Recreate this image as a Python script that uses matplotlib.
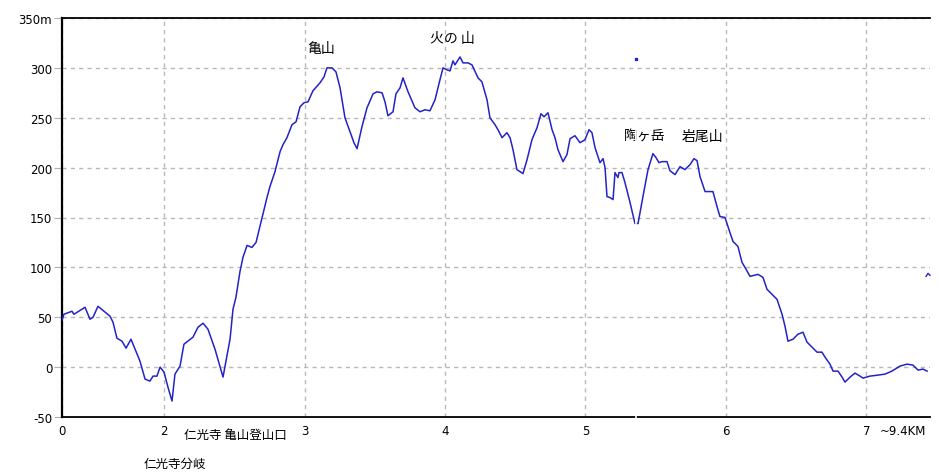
import matplotlib
matplotlib.use("Agg")
import matplotlib.pyplot as plt

# distance (km) and elevation (m) of the profile
dist_km = [1.274, 1.288, 1.345, 1.359, 1.438, 1.473, 1.495, 1.530, 1.616, 1.637,
           1.665, 1.701, 1.730, 1.765, 1.794, 1.829, 1.865, 1.900, 1.922, 1.950,
           1.972, 2.000, 2.028, 2.057, 2.078, 2.114, 2.142, 2.206, 2.242, 2.278,
           2.313, 2.363, 2.420, 2.470, 2.491, 2.512, 2.541, 2.562, 2.591, 2.626,
           2.655, 2.698, 2.733, 2.754, 2.790, 2.826, 2.847, 2.875, 2.911, 2.940,
           2.968, 2.996, 3.025, 3.060, 3.110, 3.139, 3.160, 3.196, 3.224, 3.253,
           3.288, 3.324, 3.352, 3.374, 3.409, 3.445, 3.488, 3.516, 3.552, 3.573,
           3.594, 3.630, 3.651, 3.680, 3.701, 3.737, 3.786, 3.822, 3.858, 3.893,
           3.929, 3.964, 3.986, 4.014, 4.036, 4.057, 4.071, 4.107, 4.128, 4.164,
           4.192, 4.235, 4.263, 4.299, 4.320, 4.356, 4.377, 4.406, 4.441, 4.463,
           4.484, 4.512, 4.555, 4.584, 4.619, 4.655, 4.683, 4.705, 4.733, 4.762,
           4.783, 4.804, 4.840, 4.868, 4.890, 4.925, 4.961, 4.996, 5.025, 5.046,
           5.068, 5.103, 5.125, 5.139, 5.153, 5.174, 5.196, 5.210, 5.231, 5.238,
           5.260, 5.281, 5.317, 5.352, 5.374, 5.409, 5.445, 5.480, 5.502, 5.523,
           5.544, 5.580, 5.601, 5.637, 5.673, 5.708, 5.744, 5.772, 5.794, 5.815,
           5.851, 5.907, 5.936, 5.957, 5.993, 6.028, 6.050, 6.085, 6.114, 6.135,
           6.171, 6.228, 6.263, 6.292, 6.327, 6.363, 6.399, 6.420, 6.441, 6.477,
           6.512, 6.548, 6.577, 6.612, 6.648, 6.683, 6.705, 6.740, 6.762, 6.797,
           6.826, 6.847, 6.883, 6.918, 6.954, 6.975, 7.025, 7.082, 7.132, 7.181,
           7.238, 7.288, 7.331, 7.367, 7.402, 7.431]
elev_m = [47, 53, 56, 53, 60, 48, 50, 61, 51, 45,
          29, 26, 19, 28, 18, 6, -12, -14, -9, -9,
          0, -5, -20, -34, -7, 1, 23, 30, 40, 44,
          38, 18, -10, 28, 58, 70, 96, 110, 122, 120,
          125, 150, 170, 181, 196, 216, 223, 230, 243, 246,
          261, 265, 266, 277, 285, 291, 300, 300, 296, 280,
          250, 236, 225, 219, 241, 260, 274, 276, 275, 266,
          252, 256, 274, 280, 290, 276, 260, 256, 258, 257,
          268, 288, 300, 298, 297, 307, 303, 311, 305, 305,
          303, 290, 286, 268, 250, 243, 238, 230, 235, 230,
          218, 198, 194, 208, 228, 240, 254, 251, 255, 238,
          230, 218, 206, 213, 229, 232, 225, 228, 238, 235,
          220, 205, 209, 200, 171, 170, 168, 195, 190, 195,
          195, 185, 165, 144, 144, 171, 198, 214, 210, 205,
          206, 206, 197, 193, 201, 198, 203, 209, 207, 191,
          176, 176, 161, 151, 150, 135, 126, 121, 105, 100,
          91, 93, 90, 78, 73, 68, 53, 41, 26, 28,
          33, 35, 25, 20, 15, 15, 10, 3, -4, -4,
          -10, -15, -10, -6, -9, -11, -9, -8, -7, -4,
          1, 3, 2, -3, -2, -4]

# small fragment at the right edge and the cursor marker
frag_km = [7.424, 7.438, 7.452]
frag_m = [91, 94, 92]
cursor_km = 5.359
cursor_m = 309

x_ticks = [1.274, 2, 3, 4, 5, 6, 7]
x_labels = ['0', '2', '3', '4', '5', '6', '7']
y_ticks = [-50, 0, 50, 100, 150, 200, 250, 300, 350]
y_labels = ['-50', '0', '50', '100', '150', '200', '250', '300', '350m']

peaks = [("亀山", 3.117, 320), ("火の 山", 4.050, 330),
         ("陶ヶ岳", 5.423, 232), ("岩尾山", 5.829, 232)]
below = [("仁光寺 亀山登山口", 2.505, -68), ("仁光寺分岐", 2.078, -96)]
end_label = "~9.4KM"

LINE = '#2323c8'
JP = ['Noto Sans CJK JP', 'DejaVu Sans']

fig = plt.figure(figsize=(9.42, 4.77), dpi=100)
ax = fig.add_axes([62/942, 1 - 418/477, (930 - 62)/942, (418 - 19)/477])
ax.set_xlim(1.274, 7.452)
ax.set_ylim(-50, 350)

ax.set_xticks(x_ticks)
ax.set_xticklabels(x_labels)
ax.set_yticks(y_ticks)
ax.set_yticklabels(y_labels)
ax.tick_params(axis='x', length=0, pad=5, labelsize=8.5)
ax.tick_params(axis='y', length=6, color='#b0b0b0', pad=1, labelsize=8.5)

ax.grid(True, color='#b8b8b8', linestyle=(0, (3, 3)), linewidth=1)
ax.set_axisbelow(True)

for s in ['left', 'top', 'bottom']:
    ax.spines[s].set_color('black')
ax.spines['left'].set_linewidth(1.6)
ax.spines['top'].set_linewidth(1.3)
ax.spines['bottom'].set_linewidth(1.3)
ax.spines['right'].set_visible(False)

ax.plot(dist_km, elev_m, color=LINE, linewidth=1.1, zorder=3)
ax.plot(frag_km, frag_m, color=LINE, linewidth=1.0, zorder=3, clip_on=False)

# cursor: white vertical line with a small blue dot on top
ax.plot([cursor_km, cursor_km], [-51, cursor_m - 4], color='white',
        linewidth=1.2, zorder=6, clip_on=False)
ax.plot([cursor_km], [cursor_m], marker='s', markersize=1.6, color=LINE,
        linestyle='none', zorder=7)

for txt, x, y in peaks:
    ax.text(x, y, txt, ha='center', va='center', fontsize=10, family=JP,
            color='black')
for txt, x, y in below:
    ax.text(x, y, txt, ha='center', va='center', fontsize=9, family=JP,
            color='black', clip_on=False)
ax.text(7.096, -64, end_label, ha='left', va='center', fontsize=8.5,
        color='black', clip_on=False)

fig.savefig('out.png', dpi=100, facecolor='white')
